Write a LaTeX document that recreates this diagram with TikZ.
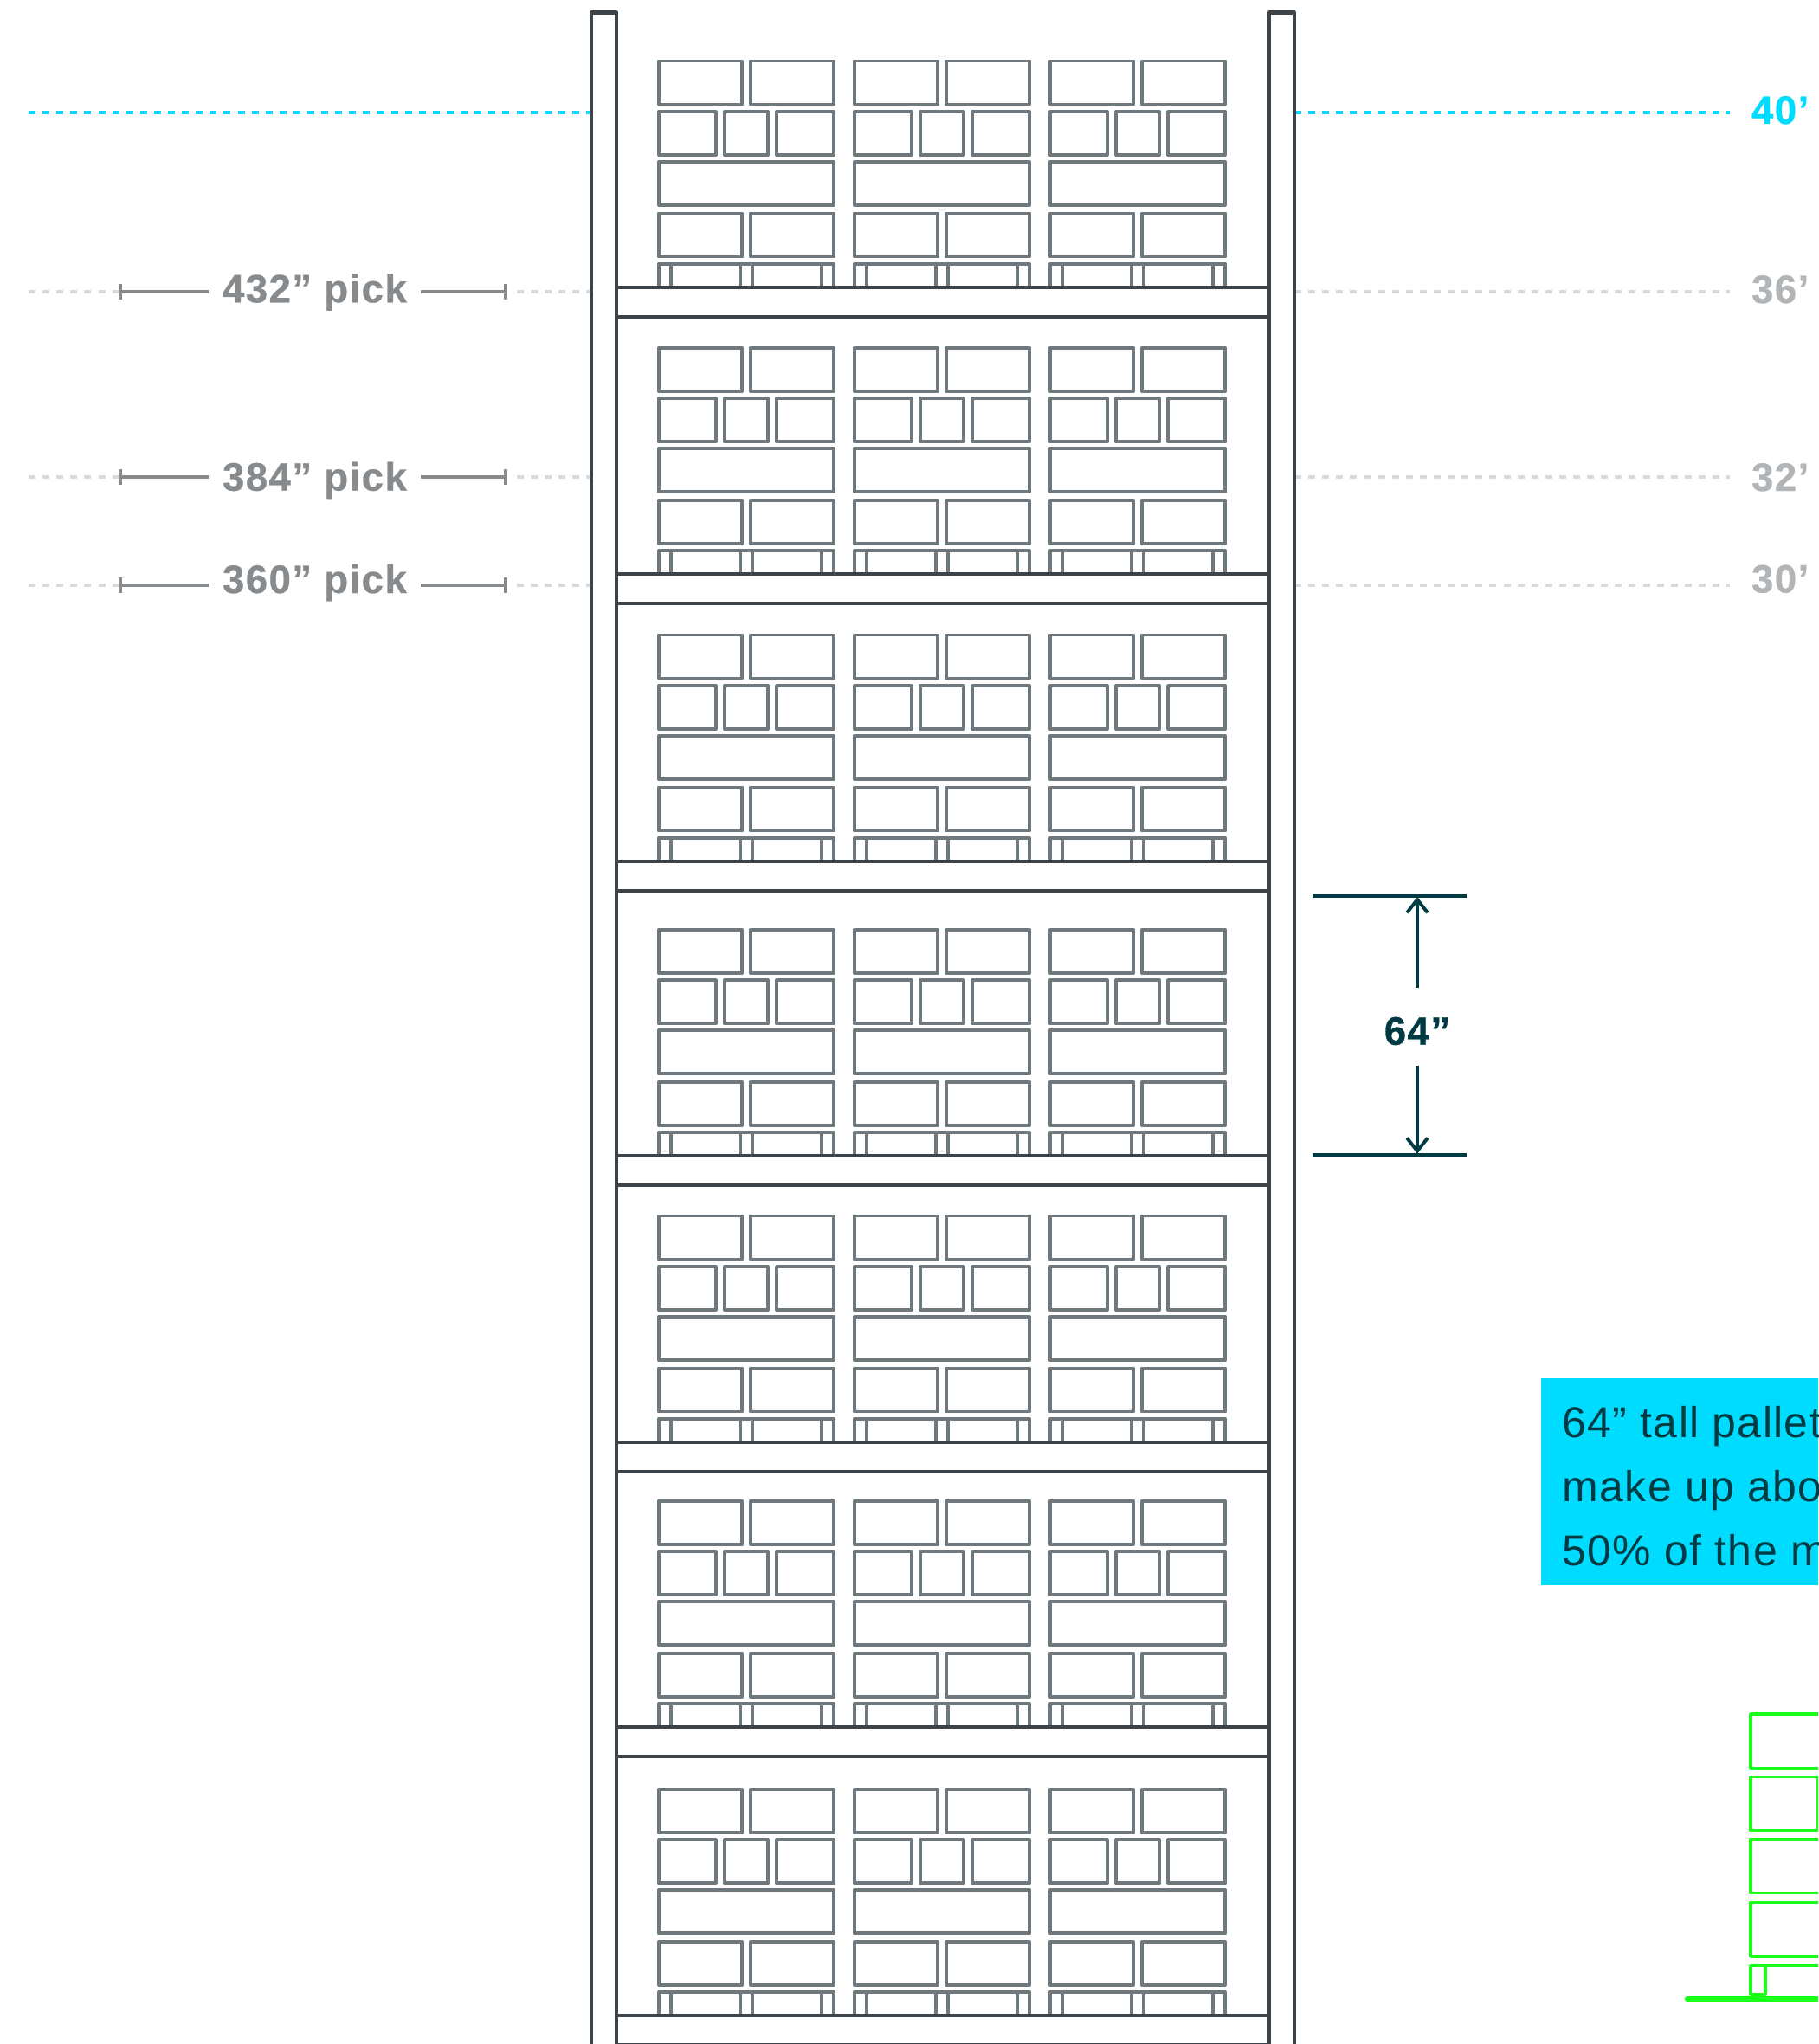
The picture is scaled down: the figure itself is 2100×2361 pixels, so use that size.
\documentclass[tikz,border=0pt]{standalone}
\usepackage{fontspec}
\usepackage{tikz}
\usetikzlibrary{arrows.meta}
\setmainfont{Liberation Sans}
\newfontfamily\tagfont[LetterSpace=2.7]{Liberation Sans}
\newfontfamily\tagbold[LetterSpace=3,FakeBold=0.6]{Liberation Sans Bold}
\definecolor{rackc}{HTML}{3C4349}
\definecolor{boxc}{HTML}{6F787C}
\definecolor{pickc}{HTML}{878B8E}
\definecolor{dotc}{HTML}{D9D9D9}
\definecolor{heightc}{HTML}{B1B5B7}
\definecolor{cyanc}{HTML}{00DCFF}
\definecolor{darkc}{HTML}{003A42}
\definecolor{greenc}{HTML}{19FF19}
\newcommand{\pxu}{.01cm}
\tikzset{
  rack/.style={draw=rackc,line width=1.2pt,line join=round},
  crate/.style={draw=boxc,line width=1.1pt,line join=round},
  leveldash/.style={line width=1.05pt,dash pattern=on 8*\pxu off 8.1*\pxu},
  dimline/.style={draw=darkc,line width=1.1pt},
  gcrate/.style={draw=greenc,line width=1pt,line join=round},
  tagtext/.style={font=\tagbold\fontsize{13}{15}\selectfont,inner sep=4.55pt,outer sep=0pt},
  notetext/.style={font=\tagfont\fontsize{14.2}{17}\selectfont,text=darkc,inner sep=0pt}
}
\newcommand{\crate}[4]{\draw[crate] (#1,#2) rectangle (#3,#4);}
\newcommand{\palletstack}{
  \crate{0}{-261.5}{96.6}{-211.5} \crate{106}{-261.5}{202.6}{-211.5}
  \crate{0}{-203}{66}{-153} \crate{76}{-203}{126.6}{-153} \crate{136.3}{-203}{202.6}{-153}
  \crate{0}{-145}{202.6}{-95}
  \crate{0}{-85.5}{96.6}{-35.5} \crate{106}{-85.5}{202.6}{-35.5}
  \draw[crate] (0,-27) -- (202.6,-27);
  \crate{0}{-27}{14.3}{0} \crate{94.3}{-27}{108.3}{0} \crate{188.3}{-27}{202.6}{0}
}
\begin{document}
\begin{tikzpicture}[x=.01cm,y=-.01cm]
  \useasboundingbox (0,0) rectangle (2100,2361);
  \clip (0,0) rectangle (2100,2361);
  \foreach \t/\y in {40/129.7,36/336.7,32/551,30/675.7}{
    \coordinate (rs\t) at (1495,\y);
    \coordinate (re\t) at (1998,\y);
  }
  \draw[leveldash,cyanc] (685,129.7) -- (33,129.7);
  \draw[leveldash,cyanc] (rs40) -- (re40);
  \foreach \h/\y/\b in {432/336.7/349.3,384/551/566.7,360/675.7/685}{
    \node[tagtext,text=pickc,anchor=base west] (p\h) at (241,\b) {\h” pick};
    \draw[leveldash,dotc] (685,\y) -- (597,\y) (33,\y) -- (137,\y);
    \draw[pickc,line width=1.1pt,-{Bar[width=5.1pt]}] (p\h.west |- 0,\y) -- (137,\y);
    \draw[pickc,line width=1.1pt,-{Bar[width=5.1pt]}] (p\h.east |- 0,\y) -- (586,\y);
  }
  \draw[leveldash,dotc] (rs36) -- (re36) (rs32) -- (re32) (rs30) -- (re30);
  \foreach \y in {332,663.3,995,1335.3,1666,1995.3,2328.3}{
    \foreach \x in {760.7,986.7,1212.7}{
      \begin{scope}[shift={(\x,\y)}]
        \palletstack
      \end{scope}
    }
    \draw[rack,fill=white] (712,\y) rectangle (1466,\y+34);
  }
  \draw[rack,fill=white] (683.3,2400) -- (683.3,14.5) -- (712.3,14.5) -- (712.3,2400);
  \draw[rack,fill=white] (1466,2400) -- (1466,14.5) -- (1495,14.5) -- (1495,2400);
  \foreach \t/\y/\c in {40/143/cyanc,36/350/heightc,32/567/heightc,30/684.5/heightc}{
    \node[tagtext,text=\c,anchor=base west,inner sep=0pt] (h\t) at (2023,\y) {\t’};
  }
  \node[tagtext,text=darkc,inner sep=0pt,anchor=base] (d64) at (1637,1206.7) {64”};
  \coordinate (dtl) at (1516,1035);
  \coordinate (dtr) at (1694,1035);
  \coordinate (dbl) at (1516,1333.7);
  \coordinate (dbr) at (1694,1333.7);
  \draw[dimline] (dtl) -- (dtr) (dbl) -- (dbr);
  \draw[dimline,-{Straight Barb[length=4.3pt,width=6.8pt]}] (1637,1140.7) -- (1637,1036);
  \draw[dimline,-{Straight Barb[length=4.3pt,width=6.8pt]}] (1637,1231) -- (1637,1332.7);
  \fill[cyanc] (1780,1592) rectangle (2110,1830.7);
  \foreach \n/\y/\t in {1/1660.7/{64” tall pallet},2/1734.7/{make up abo},3/1808/{50\% of the m}}{
    \node[notetext,anchor=base west] (note\n) at (1804,\y) {\t};
  }
  \draw[gcrate] (2022,1980) rectangle (2120,2042.3);
  \draw[gcrate] (2022,2052.7) rectangle (2099.3,2114.7);
  \draw[gcrate] (2022,2124.3) rectangle (2120,2186.7);
  \draw[gcrate] (2022,2197.3) rectangle (2120,2260);
  \draw[gcrate] (2022,2270.7) -- (2120,2270.7);
  \draw[gcrate] (2022,2270.7) rectangle (2039,2303.3);
  \draw[greenc,line width=1.5pt,line cap=round] (1948.5,2309) -- (2120,2309);
\end{tikzpicture}
\end{document}
